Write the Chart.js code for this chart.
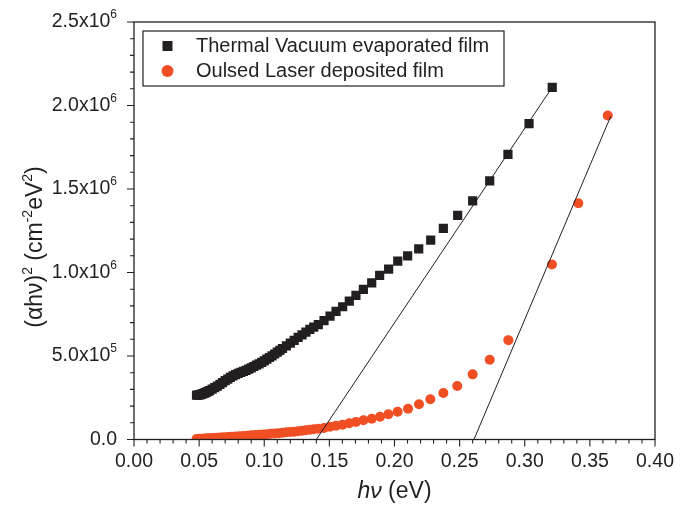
<!DOCTYPE html>
<html>
<head>
<meta charset="utf-8">
<script src="https://cdn.jsdelivr.net/npm/chart.js@4.4.1/dist/chart.umd.min.js"></script>
<style>
  html, body { margin: 0; padding: 0; background: #fff; }
  #wrap { width: 689px; height: 505px; }
</style>
</head>
<body>
<div id="wrap"><canvas id="chart" width="689" height="505"></canvas></div>
<script>
// Thermal vacuum evaporated film (black squares)
const thermalX = [0.048, 0.049, 0.050, 0.051, 0.052, 0.053, 0.054, 0.055, 0.056, 0.057, 0.058,
  0.060, 0.062, 0.064, 0.066, 0.068, 0.070, 0.072, 0.074, 0.076, 0.078, 0.080, 0.082, 0.084,
  0.086, 0.088, 0.090, 0.092, 0.094, 0.096, 0.098, 0.100, 0.102, 0.104, 0.106, 0.108, 0.110,
  0.112, 0.114, 0.117, 0.120, 0.123, 0.126, 0.129, 0.132, 0.135, 0.138, 0.1415, 0.1459, 0.1505,
  0.1551, 0.1602, 0.1653, 0.1704, 0.1761, 0.1825, 0.1886, 0.1955, 0.2025, 0.2101, 0.2186,
  0.2278, 0.2375, 0.2485, 0.2600, 0.2731, 0.2871, 0.3033, 0.3211];
const thermalY = [265000, 266000, 267000, 269000, 272000, 275000, 278000, 281000, 285000, 289000, 293000,
  302000, 311000, 320000, 330000, 341000, 352000, 362000, 372000, 381000, 389000, 396000, 402000, 408000,
  414000, 421000, 429000, 437000, 445000, 453000, 462000, 471000, 481000, 491000, 501000, 512000, 523000,
  534000, 545000, 561000, 577000, 594000, 611000, 627000, 643000, 659000, 673000, 688000, 712000, 739000,
  767000, 795000, 829000, 863000, 899000, 938000, 983000, 1020000, 1068000, 1100000, 1142000,
  1194000, 1264000, 1342000, 1429000, 1549000, 1707000, 1892000, 2108000];

// Pulsed laser deposited film (orange circles)
const laserX = [0.048, 0.050, 0.052, 0.054, 0.056, 0.058, 0.060, 0.063, 0.066, 0.069, 0.072, 0.075,
  0.078, 0.081, 0.084, 0.087, 0.090, 0.093, 0.096, 0.099, 0.102, 0.105, 0.108, 0.111, 0.114, 0.117,
  0.120, 0.123, 0.126, 0.129, 0.132, 0.135, 0.138, 0.1415, 0.1459, 0.1505, 0.1551, 0.1602, 0.1653,
  0.1704, 0.1761, 0.1825, 0.1889, 0.1953, 0.2024, 0.2104, 0.2188, 0.2275, 0.2375, 0.2482, 0.2600,
  0.2731, 0.2874, 0.3209, 0.3411, 0.3637];
const laserY = [3000, 4000, 5000, 6000, 7000, 8000, 9000, 10500, 12000, 13500, 15000, 16500,
  18000, 19500, 21000, 23000, 25000, 26500, 28000, 30000, 32000, 34000, 36000, 38000, 40500, 43000,
  45000, 47000, 49500, 52000, 55000, 58000, 61000, 64500, 69000, 76000, 82000, 89000, 97000,
  105000, 115000, 125000, 136000, 151000, 166000, 184000, 211000, 241000, 278000, 320000, 390000,
  478000, 595000, 1048000, 1415000, 1940000];

// linear fits extrapolated to the axis
const thermalFitX = [0.140, 0.321];
const thermalFitY = [0, 2108000];
const laserFitX = [0.261, 0.366];
const laserFitY = [0, 1935000];

const seriesLabels = ['Thermal Vacuum evaporated film', 'Oulsed Laser deposited film'];
const xTickLabels = ['0.00', '0.05', '0.10', '0.15', '0.20', '0.25', '0.30', '0.35', '0.40'];
const yTickValues = [0, 500000, 1000000, 1500000, 2000000, 2500000];
const yTickText = ['0.0', '5.0x10', '1.0x10', '1.5x10', '2.0x10', '2.5x10'];
const yTickExp = ['', '5', '6', '6', '6', '6'];
const xTitleParts = [{ t: 'h\u03bd', italic: true }, { t: ' (eV)' }];
const yTitleParts = [{ t: '(\u03b1h\u03bd)' }, { t: '2', sup: true }, { t: ' (cm' }, { t: '-2', sup: true },
  { t: 'eV' }, { t: '2', sup: true }, { t: ')' }];

const INK = '#231f20';
const ORANGE = '#f04e23';
const FONT = '"Liberation Sans", Arial, sans-serif';

function toPoints(xs, ys) {
    return xs.map((x, i) => ({ x: x, y: ys[i] }));
}

// text with superscripts, anchored at centre or right
function drawRich(ctx, parts, x, y, size, align, rise) {
    const supSize = Math.round(size * 0.62);
    const fontFor = p => (p.italic ? 'italic ' : '') + (p.sup ? supSize : size) + 'px ' + FONT;
    let total = 0;
    parts.forEach(p => { ctx.font = fontFor(p); total += ctx.measureText(p.t).width; });
    let cx = align === 'right' ? x - total : x - total / 2;
    ctx.textAlign = 'left';
    parts.forEach(p => {
        ctx.font = fontFor(p);
        ctx.fillText(p.t, cx, p.sup ? y - size * rise : y);
        cx += ctx.measureText(p.t).width;
    });
}

// frame, ticks, y labels, axis titles and the boxed legend
const decorations = {
    id: 'decorations',
    afterDraw(chart) {
        const { ctx, chartArea: a, scales } = chart;
        ctx.save();
        ctx.strokeStyle = INK;
        ctx.fillStyle = INK;
        ctx.lineWidth = 1.3;
        ctx.strokeRect(a.left, a.top, a.right - a.left, a.bottom - a.top);

        ctx.lineWidth = 1.1;
        ctx.beginPath();
        for (let i = 0; i <= 40; i++) {
            const px = scales.x.getPixelForValue(i / 100);
            const len = i % 5 === 0 ? 7 : 4;
            ctx.moveTo(px, a.bottom);
            ctx.lineTo(px, a.bottom + len);
        }
        for (let i = 0; i <= 25; i++) {
            const py = scales.y.getPixelForValue(i * 100000);
            const len = i % 5 === 0 ? 7 : 4;
            ctx.moveTo(a.left, py);
            ctx.lineTo(a.left - len, py);
        }
        ctx.stroke();

        // y tick labels with exponents
        ctx.textBaseline = 'middle';
        yTickValues.forEach((v, i) => {
            const py = scales.y.getPixelForValue(v);
            const parts = [{ t: yTickText[i] }];
            if (yTickExp[i]) parts.push({ t: yTickExp[i], sup: true });
            drawRich(ctx, parts, 117, py, 19.5, 'right', 0.36);
        });

        // axis titles
        ctx.textBaseline = 'alphabetic';
        drawRich(ctx, xTitleParts, (a.left + a.right) / 2, 498, 23, 'center', 0.42);
        ctx.save();
        ctx.translate(42, 247);
        ctx.rotate(-Math.PI / 2);
        drawRich(ctx, yTitleParts, 0, 0, 23, 'center', 0.42);
        ctx.restore();

        // legend
        ctx.lineWidth = 1.2;
        ctx.strokeRect(143, 31, 361, 55);
        ctx.font = '20px ' + FONT;
        ctx.textBaseline = 'middle';
        ctx.textAlign = 'left';
        ctx.fillStyle = INK;
        ctx.fillRect(162.5, 41, 10, 10);
        ctx.fillText(seriesLabels[0], 196, 46);
        ctx.fillStyle = ORANGE;
        ctx.beginPath();
        ctx.arc(167.5, 71, 6, 0, Math.PI * 2);
        ctx.fill();
        ctx.fillStyle = INK;
        ctx.fillText(seriesLabels[1], 196, 71);
        ctx.restore();
    }
};

Chart.defaults.font.family = FONT;
Chart.defaults.font.size = 19.5;
Chart.defaults.color = INK;

const ctx = document.getElementById('chart').getContext('2d');
const chart = new Chart(ctx, {
    type: 'scatter',
    data: {
        datasets: [
            {
                label: 'fit1',
                data: toPoints(thermalFitX, thermalFitY),
                showLine: true,
                borderColor: INK,
                borderWidth: 1,
                pointRadius: 0,
                order: 0
            },
            {
                label: 'fit2',
                data: toPoints(laserFitX, laserFitY),
                showLine: true,
                borderColor: INK,
                borderWidth: 1,
                pointRadius: 0,
                order: 0
            },
            {
                label: seriesLabels[0],
                data: toPoints(thermalX, thermalY),
                pointStyle: 'rect',
                pointRadius: 6.5,
                backgroundColor: INK,
                borderWidth: 0,
                order: 2
            },
            {
                label: seriesLabels[1],
                data: toPoints(laserX, laserY),
                pointStyle: 'circle',
                pointRadius: 5,
                backgroundColor: ORANGE,
                borderWidth: 0,
                clip: 0,
                order: 1
            }
        ]
    },
    options: {
        responsive: false,
        animation: false,
        events: [],
        layout: { padding: { left: 0, right: 34, top: 22, bottom: 0 } },
        plugins: {
            legend: { display: false },
            tooltip: { enabled: false }
        },
        scales: {
            x: {
                type: 'linear',
                min: 0,
                max: 0.4,
                afterFit: scale => { scale.height = 65.5; },
                grid: { display: false, drawTicks: false },
                border: { display: false },
                ticks: {
                    stepSize: 0.05,
                    padding: 10,
                    maxRotation: 0,
                    autoSkip: false,
                    callback: (v, i) => xTickLabels[i]
                }
            },
            y: {
                type: 'linear',
                min: 0,
                max: 2500000,
                afterFit: scale => { scale.width = 134; },
                grid: { display: false, drawTicks: false },
                border: { display: false },
                ticks: {
                    display: false,
                    stepSize: 500000
                }
            }
        }
    },
    plugins: [decorations]
});
</script>
</body>
</html>
